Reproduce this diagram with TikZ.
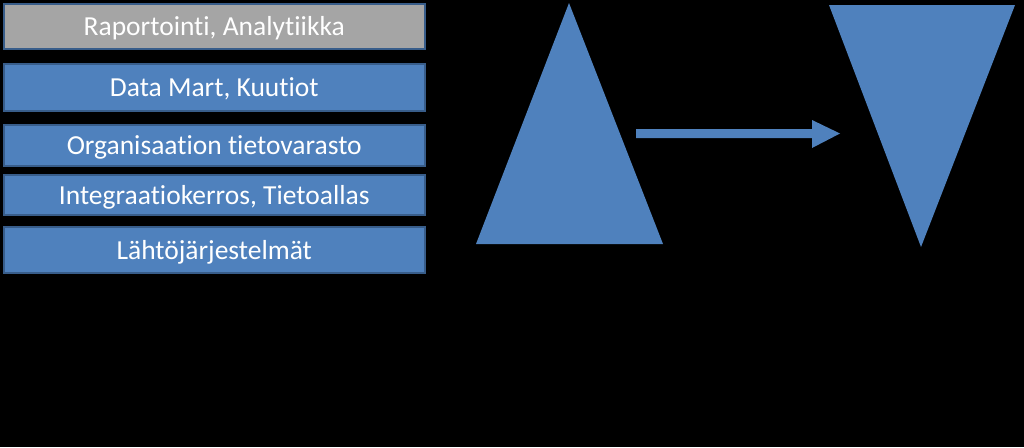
\documentclass[tikz,border=0pt]{standalone}
\usepackage{fontspec}
\setmainfont{Carlito}[Ligatures=NoCommon]
\definecolor{ofblue}{HTML}{4F81BD}
\definecolor{ofline}{HTML}{385D8A}
\definecolor{ofgray}{HTML}{A5A5A5}
\begin{document}
\begin{tikzpicture}[x=1pt,y=-1pt,
  layer/.style={draw=ofline,line width=1.5pt,fill=ofblue,text=white,
    minimum width=421pt,inner sep=0pt,text height=19pt,text depth=0pt,
    font=\fontsize{27.5}{30}\selectfont,anchor=north west},
  solidshape/.style={fill=ofblue,draw=none}]
\fill[black] (0,0) rectangle (1024,447);
\useasboundingbox (0,0) rectangle (1024,447);
\node[layer,fill=ofgray,minimum height=45pt] (l1) at (3,3) {Raportointi, Analytiikka};
\node[layer,minimum height=47pt] (l2) at (3,63) {Data Mart, Kuutiot};
\node[layer,minimum height=41pt] (l3) at (3,124) {Organisaation tietovarasto};
\node[layer,minimum height=40pt] (l4) at (3,174) {Integraatiokerros, Tietoallas};
\node[layer,minimum height=46pt] (l5) at (3,226) {Lähtöjärjestelmät};
\coordinate (ta) at (569,3);
\coordinate (tl) at (476,244);
\coordinate (tr) at (663,244);
\fill[solidshape] (ta) -- (tl) -- (tr) -- cycle;
\coordinate (ia) at (921,247);
\coordinate (il) at (829,5);
\coordinate (ir) at (1015,5);
\fill[solidshape] (il) -- (ir) -- (ia) -- cycle;
\coordinate (ae) at (840,133.5);
\fill[solidshape] (636,129) -- (812,129) -- (812,120) -- (ae) -- (812,148) -- (812,138) -- (636,138) -- cycle;
\end{tikzpicture}
\end{document}
